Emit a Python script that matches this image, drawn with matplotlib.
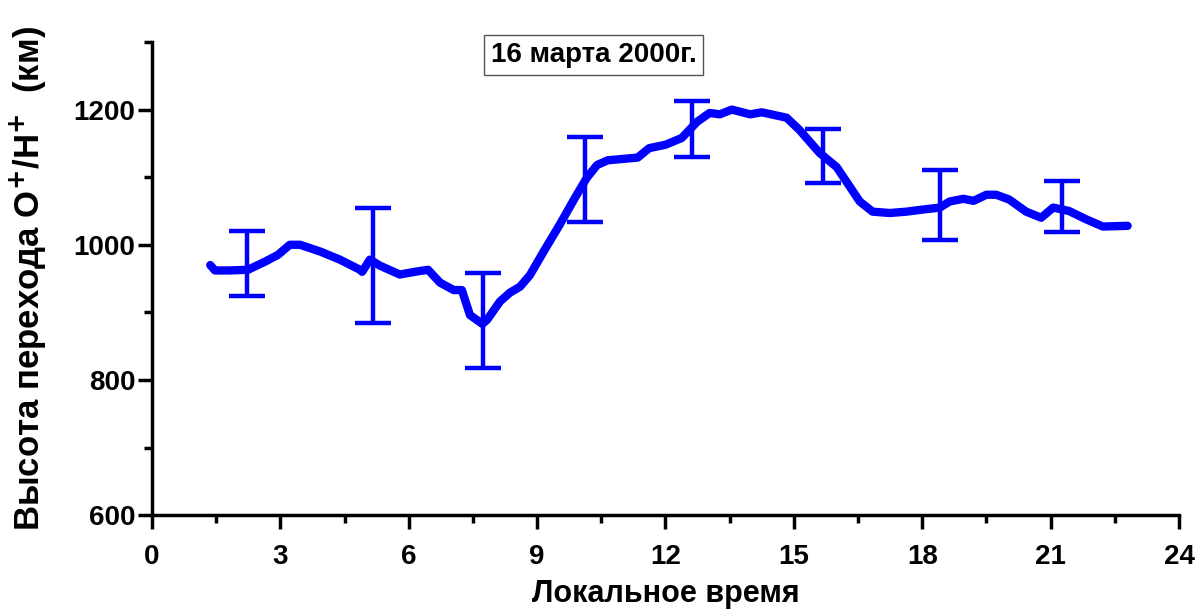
import numpy as np
import matplotlib.pyplot as plt
from matplotlib.ticker import MultipleLocator

plt.rcParams['font.family'] = ['Liberation Sans', 'DejaVu Sans']
plt.rcParams['font.weight'] = 'bold'

# локальное время (ч) и высота перехода O+/H+ (км)
t = [1.36, 1.47, 1.8, 2.24, 2.64, 2.94, 3.22, 3.46, 3.93, 4.39, 4.86, 4.91,
     5.09, 5.33, 5.79, 6.14, 6.45, 6.73, 7.05, 7.24, 7.43, 7.72, 7.83, 8.13,
     8.36, 8.6, 8.83, 9.18, 9.53, 9.88, 10.16, 10.4, 10.65, 11.35, 11.62,
     12.0, 12.38, 12.74, 13.03, 13.27, 13.55, 13.98, 14.25, 14.83, 15.13,
     15.6, 16.0, 16.54, 16.84, 17.24, 17.63, 18.0, 18.41, 18.64, 18.96,
     19.2, 19.5, 19.73, 20.03, 20.43, 20.78, 21.06, 21.43, 21.82, 22.22, 22.8]
h = [970, 962, 962, 963, 975, 985, 1000, 1000, 990, 978, 963, 960,
     978, 969, 956, 960, 963, 944, 933, 933, 896, 883, 889, 916,
     929, 938, 955, 993, 1030, 1069, 1099, 1118, 1125, 1129, 1143,
     1148, 1158, 1182, 1195, 1193, 1200, 1193, 1196, 1188, 1170,
     1136, 1115, 1064, 1049, 1047, 1049, 1052, 1055, 1064, 1068,
     1065, 1074, 1074, 1067, 1049, 1040, 1055, 1050, 1038, 1027, 1028]

# точки с погрешностями
t_err = [2.22, 5.16, 7.73, 10.12, 12.62, 15.68, 18.41, 21.26]
h_err = [972, 970, 888, 1096, 1171, 1132, 1059, 1057]
dh = [48, 85, 70, 63, 41, 40, 52, 38]

fig = plt.figure(figsize=(12.03, 6.14), dpi=100)
ax = fig.add_axes([0.1264, 0.161, 0.8536, 0.7706])

ax.plot(t, h, color='#0000ff', lw=6, solid_capstyle='round',
        solid_joinstyle='round')
ax.errorbar(t_err, h_err, yerr=dh, fmt='none', ecolor='#0000ff',
            elinewidth=3.2, capsize=13, capthick=3.2)

ax.set_xlim(0, 24)
ax.set_ylim(600, 1300)
ax.xaxis.set_major_locator(MultipleLocator(3))
ax.xaxis.set_minor_locator(MultipleLocator(1.5))
ax.yaxis.set_major_locator(MultipleLocator(200))
ax.yaxis.set_minor_locator(MultipleLocator(100))
ax.set_yticks([600, 800, 1000, 1200])

for s in ['top', 'right']:
    ax.spines[s].set_visible(False)
for s in ['left', 'bottom']:
    ax.spines[s].set_linewidth(2.5)

ax.tick_params(which='major', direction='out', length=10, width=2.5,
               labelsize=20)
ax.tick_params(which='minor', direction='out', length=6, width=2.5)
ax.tick_params(axis='x', pad=11)
ax.tick_params(axis='y', pad=2)

ax.set_xlabel('Локальное время', fontsize=22, fontweight='bold', labelpad=6)
ax.set_ylabel('Высота перехода O$^{\\mathbf{+}}$/H$^{\\mathbf{+}}$  (км)',
              fontsize=25, fontweight='bold', labelpad=18)

ax.text(0.43, 0.9725, '16 марта 2000г.', transform=ax.transAxes,
        fontsize=20, fontweight='bold', ha='center', va='center',
        bbox=dict(boxstyle='square,pad=0.25', fc='white', ec='#555555', lw=1))

fig.savefig('out.png', dpi=100)
